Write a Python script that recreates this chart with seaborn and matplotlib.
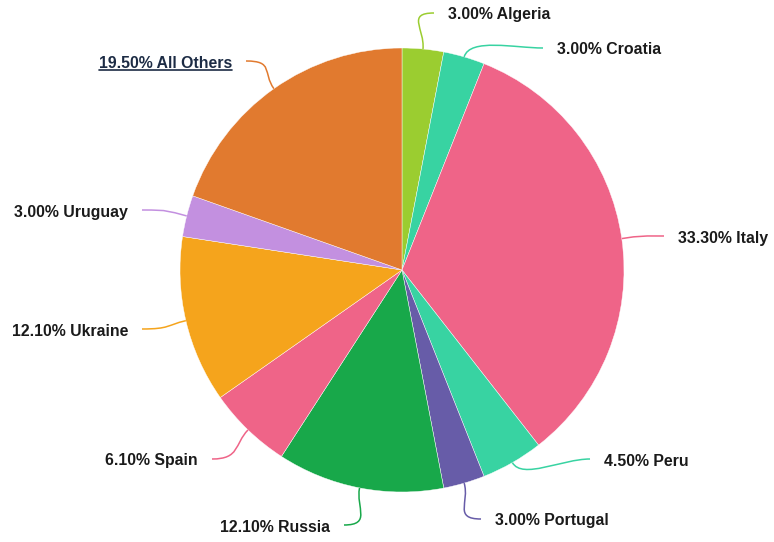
import numpy as np
import matplotlib
matplotlib.use("Agg")
import matplotlib.pyplot as plt
from matplotlib.path import Path
from matplotlib.patches import PathPatch
from matplotlib.lines import Line2D
import seaborn as sns

# ---- data ----
countries = ["Algeria", "Croatia", "Italy", "Peru", "Portugal", "Russia",
             "Spain", "Ukraine", "Uruguay", "All Others"]
shares = [3.00, 3.00, 33.30, 4.50, 3.00, 12.10, 6.10, 12.10, 3.00, 19.50]
colors = ["#9bcd30", "#38d3a2", "#ef6488", "#38d3a2", "#675ca8", "#18a84a",
          "#ef6488", "#f5a41c", "#c390e0", "#e17a2f"]

# ---- layout (pixels, y down) ----
W, H = 774, 542
cx, cy, R = 402, 270, 222
# label text anchor (x, y) and side (+1 text to right, -1 text to left)
label_pos = [(448, 15, 1), (557, 50, 1), (678, 238, 1), (604, 461, 1),
             (495, 521, 1), (330, 527, -1), (198, 461, -1), (128, 331, -1),
             (128, 212, -1), (232, 63, -1)]

sns.set_theme(style="white")
plt.rcParams["font.family"] = ["Liberation Sans", "DejaVu Sans"]

fig = plt.figure(figsize=(W / 100, H / 100), dpi=100)
ax = fig.add_axes([0, 0, 1, 1])

wedges, _ = ax.pie(shares, colors=colors, startangle=90, counterclock=False,
                   center=(cx, H - cy), radius=R,
                   wedgeprops=dict(linewidth=0.3, edgecolor="white"))
ax.set_xlim(0, W)
ax.set_ylim(0, H)
ax.set_aspect("equal")
ax.axis("off")

total = sum(shares)
cum = 0.0
texts = []
for name, val, col, (lx, ly, side) in zip(countries, shares, colors, label_pos):
    mid = (cum + val / 2) / total * 2 * np.pi
    cum += val
    ux, uy = np.sin(mid), np.cos(mid)  # up = +y in data coords
    p0 = np.array([cx + R * ux, (H - cy) + R * uy])
    p1 = p0 + 20 * np.array([ux, uy])
    end = np.array([lx - side * 14, H - ly + 2])
    p2 = end - np.array([side * 28, 0])
    path = Path([p0, p1, p2, end],
                [Path.MOVETO, Path.CURVE4, Path.CURVE4, Path.CURVE4])
    ax.add_patch(PathPatch(path, facecolor="none", edgecolor=col, lw=1.1))
    is_other = name == "All Others"
    t = ax.text(lx, H - ly, f"{val:.2f}% {name}",
                ha="left" if side > 0 else "right", va="center",
                fontsize=11.4, fontweight="bold",
                color="#1c2b44" if is_other else "#1a1a1a")
    texts.append((t, is_other))

fig.canvas.draw()
renderer = fig.canvas.get_renderer()
for t, is_other in texts:
    if is_other:
        bb = t.get_window_extent(renderer)
        yline = bb.y0 + 1
        fig.add_artist(Line2D([bb.x0 / W, bb.x1 / W], [yline / H, yline / H],
                              transform=fig.transFigure, color="#1c2b44", lw=1.2))

fig.savefig("out.png", dpi=100, facecolor="white")
